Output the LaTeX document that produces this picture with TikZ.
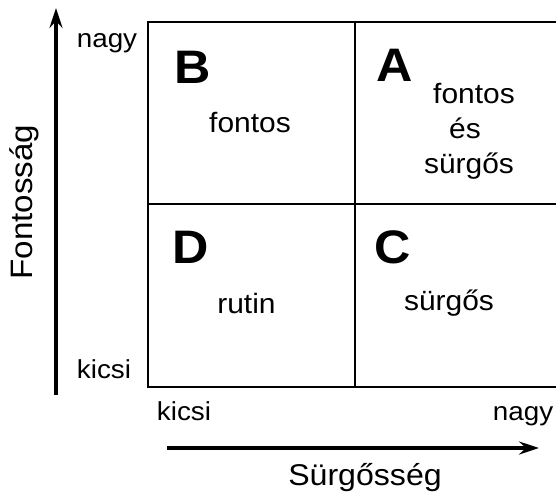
\documentclass[tikz,border=0pt]{standalone}
\usepackage{fontspec}
\setmainfont{Liberation Sans}[FakeStretch=1.07]
\usetikzlibrary{arrows.meta}
\begin{document}
\begin{tikzpicture}[x=1pt,y=-1pt,
  grid/.style={line width=2pt},
  axis/.style={line width=3.5pt,-{Stealth[length=20pt,width=13pt,inset=7pt]}},
  big/.style={font=\fontsize{47}{52}\selectfont\bfseries,anchor=center,inner sep=0pt},
  lab/.style={font=\fontsize{28}{33}\selectfont,anchor=base,inner sep=0pt},
  ends/.style={font=\fontsize{26}{30}\selectfont,anchor=base,inner sep=0pt}]
\useasboundingbox (0,0) rectangle (556,493);
% grid
\coordinate (tl) at (148,22);
\coordinate (tr) at (556,22);
\coordinate (bl) at (148,387);
\coordinate (br) at (556,387);
\coordinate (ml) at (148,204);
\coordinate (mr) at (556,204);
\coordinate (mt) at (355,22);
\coordinate (mb) at (355,387);
\draw[grid] (tr) -- (tl) -- (bl) -- (br);
\draw[grid] (ml) -- (mr);
\draw[grid] (mt) -- (mb);
% axes
\coordinate (vs) at (56,395);
\coordinate (ve) at (56,8);
\coordinate (hs) at (167,448);
\coordinate (he) at (539,448);
\draw[axis] (vs) -- (ve);
\draw[axis] (hs) -- (he);
% letters
\node[big] (B) at (193,67.5) {B};
\node[big] (A) at (395,65.5) {A};
\node[big] (D) at (191,247.5) {D};
\node[big] (C) at (393,247.5) {C};
% quadrant texts
\node[lab] (tb) at (250,132) {fontos};
\node[lab] (ta1) at (474,103) {fontos};
\node[lab] (ta2) at (465,138) {és};
\node[lab] (ta3) at (469,173) {sürgős};
\node[lab] (td) at (246.5,313) {rutin};
\node[lab] (tc) at (449,310) {sürgős};
% axis end labels
\node[ends] (n1) at (107,47) {nagy};
\node[ends] (k1) at (104,378) {kicsi};
\node[ends] (k2) at (184,420) {kicsi};
\node[ends] (n2) at (523,420) {nagy};
% axis titles
\node[font=\fontsize{30}{34}\selectfont,anchor=base,inner sep=0pt] (xs) at (365,485) {Sürgősség};
\node[font=\fontsize{31}{34}\selectfont,anchor=base,inner sep=0pt,rotate=90] (ys) at (32,202) {Fontosság};
\end{tikzpicture}
\end{document}
